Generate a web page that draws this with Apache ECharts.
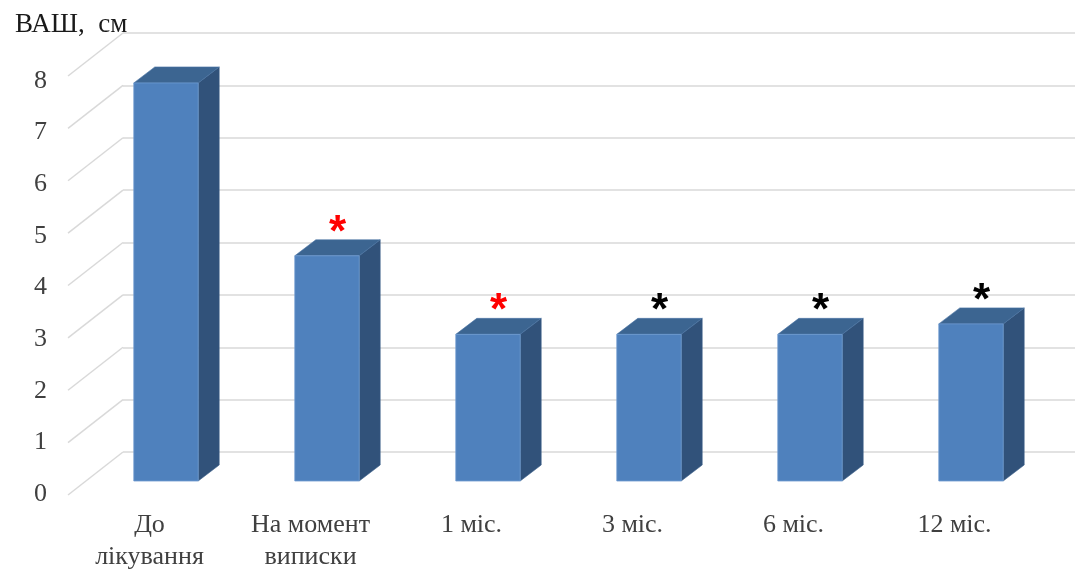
<!DOCTYPE html>
<html>
<head>
<meta charset="utf-8">
<script src="https://cdn.jsdelivr.net/npm/echarts@6/dist/echarts.min.js"></script>
<style>
  html, body { margin: 0; padding: 0; background: #ffffff; }
  #chart { width: 1080px; height: 569px; }
</style>
</head>
<body>
<div id="chart"></div>
<script>
// Pain score (VAS, cm) over the course of treatment
const categories = ['До\nлікування', 'На момент\nвиписки', '1 міс.', '3 міс.', '6 міс.', '12 міс.'];
const scores = [7.6, 4.3, 2.8, 2.8, 2.8, 3.0];
// significance marks above bars and their colours
const marks = ['', '*', '*', '*', '*', '*'];
const markColors = ['#000000', '#ff0000', '#ff0000', '#000000', '#000000', '#000000'];
const yTicks = [0, 1, 2, 3, 4, 5, 6, 7, 8];
const yMax = 8;

// oblique depth of the 3D look
const WALL_DX = -55, WALL_DY = 43;   // back wall -> front edge of the left wall
const BAR_DX = 21, BAR_DY = -16;     // bar front -> bar back

const FRONT = '#4f81bd', TOP = '#3c6591', SIDE = '#31527a';
const GRID_C = '#d9d9d9';
const SERIF = '"Liberation Serif", "Times New Roman", serif';

const chart = echarts.init(document.getElementById('chart'), null, { renderer: 'canvas' });

const option = {
  animation: false,
  backgroundColor: '#ffffff',
  title: {
    text: 'ВАШ,  см',
    left: 10, top: 6,
    textStyle: { fontFamily: SERIF, fontSize: 27, fontWeight: 'normal', color: '#1a1a1a' }
  },
  grid: [
    // back wall
    { left: 123, right: 5, top: 33, bottom: 117, outerBoundsMode: 'none' },
    // front plane of the bars
    { left: 85.5, right: 28.5, top: 62, bottom: 88, outerBoundsMode: 'none' },
    // front edge: tick and category labels
    { left: 69, right: 45, top: 81, bottom: 75, outerBoundsMode: 'none' }
  ],
  xAxis: [
    { gridIndex: 0, type: 'value', min: 0, max: 1, show: false },
    { gridIndex: 1, type: 'category', data: categories, show: false },
    {
      gridIndex: 2, type: 'category', data: categories,
      axisLine: { show: false }, axisTick: { show: false },
      axisLabel: {
        interval: 0, margin: 15, verticalAlign: 'top',
        fontFamily: SERIF, fontSize: 26, lineHeight: 32, color: '#404040'
      }
    }
  ],
  yAxis: [
    {
      gridIndex: 0, type: 'value', min: 0, max: yMax, interval: 1,
      axisLine: { show: false }, axisTick: { show: false }, axisLabel: { show: false },
      splitLine: { show: true, lineStyle: { color: GRID_C, width: 1.5 } }
    },
    { gridIndex: 1, type: 'value', min: 0, max: yMax, interval: 1, show: false },
    {
      gridIndex: 2, type: 'value', min: 0, max: yMax, interval: 1,
      axisLine: { show: false }, axisTick: { show: false }, splitLine: { show: false },
      axisLabel: { margin: 22, fontFamily: SERIF, fontSize: 26, color: '#404040' }
    }
  ],
  series: [
    {
      // diagonal gridlines on the left wall
      type: 'custom', xAxisIndex: 0, yAxisIndex: 0, silent: true, z: 1,
      data: yTicks.map(v => [0, v]),
      renderItem: function (params, api) {
        const p = api.coord([0, api.value(1)]);
        return {
          type: 'line',
          shape: { x1: p[0], y1: p[1], x2: p[0] + WALL_DX, y2: p[1] + WALL_DY },
          style: { stroke: GRID_C, lineWidth: 1.5 }
        };
      }
    },
    {
      // 3D columns
      type: 'custom', xAxisIndex: 1, yAxisIndex: 1, silent: true, z: 5,
      data: scores.map((v, i) => [i, v]),
      renderItem: function (params, api) {
        const i = api.value(0), v = api.value(1);
        const top = api.coord([i, v]);
        const base = api.coord([i, 0]);
        const w = api.size([1, 0])[0] * 0.4;
        const x0 = top[0] - w / 2, x1 = top[0] + w / 2;
        const yT = top[1], yB = base[1];
        const children = [
          {
            type: 'polygon',
            shape: { points: [[x1, yT], [x1 + BAR_DX, yT + BAR_DY], [x1 + BAR_DX, yB + BAR_DY], [x1, yB]] },
            style: { fill: SIDE, stroke: '#3a5f8a', lineWidth: 0.6 }
          },
          {
            type: 'polygon',
            shape: { points: [[x0, yT], [x0 + BAR_DX, yT + BAR_DY], [x1 + BAR_DX, yT + BAR_DY], [x1, yT]] },
            style: { fill: TOP, stroke: '#4a74a5', lineWidth: 0.6 }
          },
          {
            type: 'rect',
            shape: { x: x0, y: yT, width: w, height: yB - yT },
            style: { fill: FRONT, stroke: '#6f9bd0', lineWidth: 0.8 }
          }
        ];
        if (marks[i]) {
          children.push({
            type: 'text',
            style: {
              text: marks[i],
              x: top[0] + BAR_DX / 2, y: yT - 22,
              align: 'center', verticalAlign: 'middle',
              fontFamily: '"Liberation Sans", Arial, sans-serif',
              fontSize: 44, fontWeight: 'bold',
              fill: markColors[i]
            }
          });
        }
        return { type: 'group', children: children };
      }
    }
  ]
};

chart.setOption(option);
</script>
</body>
</html>
